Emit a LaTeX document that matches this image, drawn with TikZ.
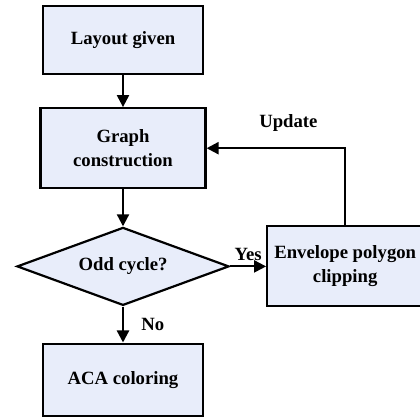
\documentclass[tikz,border=0pt]{standalone}
\usepackage{fontspec}
\setmainfont{Liberation Serif}
\usetikzlibrary{arrows.meta,shapes.geometric,positioning}

\definecolor{boxfill}{RGB}{232,237,250}

\begin{document}
\begin{tikzpicture}[x=1pt,y=1pt,
    process/.style={rectangle,draw=black,fill=boxfill,line width=2.2pt,
        inner sep=0mm,minimum width=160pt,minimum height=70pt,align=center,
        font=\fontsize{18.7}{24}\selectfont\bfseries},
    decision/.style={diamond,draw=black,fill=boxfill,line width=2.2pt,
        inner sep=0mm,aspect=2.7,minimum width=212pt,minimum height=78pt,
        font=\fontsize{18.7}{24}\selectfont\bfseries},
    flow/.style={line width=2.2pt,-{Triangle[length=12pt,width=12pt]}},
    tag/.style={font=\fontsize{18.7}{24}\selectfont\bfseries}
]
 \clip (0,0) rectangle (420,-419);

 \node[process,minimum height=68pt] (layout) at (123,-40) {Layout given};
 \node[process,minimum width=165pt,minimum height=80pt] (graph) [below=32pt of layout] {Graph\\construction};
 \node[decision] (odd) [below=37pt of graph] {Odd cycle?};
 \node[process,minimum height=72pt] (aca) [below=36pt of odd] {ACA coloring};
 \node[process,minimum width=156pt,minimum height=80pt] (envelope) [right=36pt of odd] {Envelope polygon\\clipping};

 \draw[flow] (layout) -- (graph);
 \draw[flow] (graph) -- (odd);
 \draw[flow] (odd) -- node[tag,right=14pt] {No} (aca);
 \draw[flow] (odd) -- node[tag,above=1pt] {Yes} (envelope);
 \draw[flow] (envelope.north) |- node[tag,pos=0.705,above=12pt] {Update} (graph.east);
\end{tikzpicture}
\end{document}
